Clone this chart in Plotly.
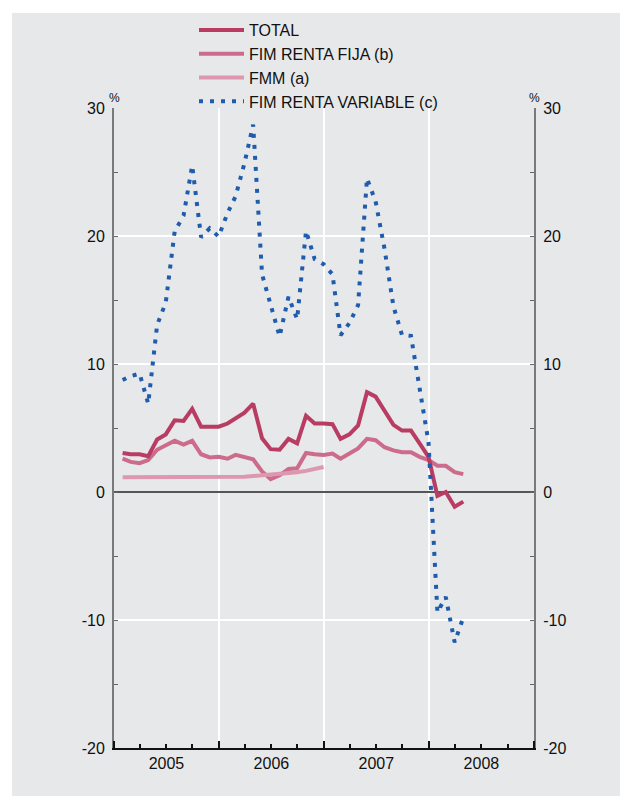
import pandas as pd
import plotly.graph_objects as go

# Monthly data, Jan 2005 - Apr 2008 (end of month)
months = pd.date_range("2005-01-31", periods=40, freq="ME").strftime("%Y-%m-%d").tolist()

total = [3.05, 2.95, 2.95, 2.8, 4.1, 4.5, 5.6, 5.55, 6.5, 5.1, 5.1, 5.1,
         5.35, 5.75, 6.2, 6.9, 4.2, 3.35, 3.3, 4.15, 3.8, 5.95, 5.35, 5.35,
         5.3, 4.15, 4.5, 5.2, 7.8, 7.45, 6.3, 5.25, 4.8, 4.8, 3.8, 2.75,
         -0.3, 0.0, -1.15, -0.75]

renta_fija = [2.6, 2.35, 2.25, 2.5, 3.3, 3.65, 4.0, 3.7, 4.0, 2.95, 2.7, 2.75,
              2.6, 2.9, 2.75, 2.55, 1.6, 1.0, 1.3, 1.8, 1.85, 3.05, 2.95, 2.9,
              3.0, 2.6, 3.0, 3.4, 4.15, 4.05, 3.5, 3.25, 3.1, 3.1, 2.75, 2.5,
              2.05, 2.05, 1.55, 1.4]

fmm = [1.15, 1.15, 1.15, 1.15, 1.18, 1.2, 1.2, 1.2, 1.2, 1.18, 1.15, 1.15,
       1.15, 1.17, 1.2, 1.25, 1.3, 1.35, 1.4, 1.5, 1.55, 1.65, 1.8, 1.95]

renta_variable = [8.75, 9.05, 9.25, 6.9, 13.05, 14.8, 20.35, 21.6, 25.5, 19.9, 20.6, 19.95,
                  21.8, 23.1, 25.7, 28.7, 17.0, 14.5, 12.15, 15.25, 13.5, 20.4, 18.2, 17.8,
                  17.0, 12.25, 13.2, 14.6, 24.5, 22.7, 19.0, 14.5, 12.25, 12.2, 8.2, 3.9,
                  -9.4, -8.2, -11.75, -9.8]

y_ticks = [-20, -10, 0, 10, 20, 30]
y_ticktext = ["-20", "-10", "0", "10", "20", "30"]

BG = "#e7e8ea"
FONT = "Liberation Sans, Arial, sans-serif"

# page body has an 8px margin, so the figure starts at (8, 8)
L, T, PW, PH = 106, 100, 420, 640

fig = go.Figure()

fig.add_trace(go.Scatter(x=months, y=renta_fija, name="FIM RENTA FIJA (b)", mode="lines",
                         line=dict(color="#cc6b8a", width=4), legendrank=2))
fig.add_trace(go.Scatter(x=months[:len(fmm)], y=fmm, name="FMM (a)", mode="lines",
                         line=dict(color="#dd97ae", width=4), legendrank=3))
fig.add_trace(go.Scatter(x=months, y=total, name="TOTAL", mode="lines",
                         line=dict(color="#b93c62", width=4), legendrank=1))
fig.add_trace(go.Scatter(x=months, y=renta_variable, name="FIM RENTA VARIABLE (c)", mode="lines",
                         line=dict(color="#1f5cad", width=4, dash="4px,7px"), legendrank=4))
# dummy trace so the right axis gets drawn
fig.add_trace(go.Scatter(x=months, y=total, yaxis="y2", mode="lines", opacity=0,
                         line=dict(width=0), showlegend=False, hoverinfo="skip"))

yaxis_common = dict(range=[-20, 30], tickmode="array", tickvals=y_ticks, ticktext=y_ticktext,
                    ticks="inside", ticklen=4, ticklabelstandoff=4,
                    tickcolor="#666", showline=True, linecolor="#7a7a7a", linewidth=2,
                    tickfont=dict(size=16, color="#111"),
                    minor=dict(dtick=5, tick0=0, ticks="inside", ticklen=4, tickcolor="#666",
                               showgrid=False),
                    fixedrange=True)

fig.update_layout(
    width=628, height=796,
    margin=dict(l=L, r=628 - L - PW, t=T, b=796 - T - PH, autoexpand=False),
    paper_bgcolor=BG, plot_bgcolor=BG,
    font=dict(family=FONT, size=16, color="#111"),
    showlegend=True,
    legend=dict(x=(194 - 8 - L) / PW, y=(PH + T - 5) / PH, xanchor="left", yanchor="top",
                bgcolor="rgba(0,0,0,0)", font=dict(size=16), tracegroupgap=0, itemwidth=45),
    xaxis=dict(type="date", range=["2005-01-01", "2009-01-01"], dtick="M12", tick0="2005-01-01",
               tickformat="%Y", ticklabelmode="period", ticks="inside", ticklen=7,
               tickcolor="#111", tickwidth=2, showline=True, linecolor="#111", linewidth=2,
               showgrid=True, gridcolor="white", gridwidth=2, tickfont=dict(size=16),
               minor=dict(dtick="M3", tick0="2005-01-01", ticks="inside", ticklen=4,
                          tickcolor="#111", showgrid=False)),
    yaxis=dict(side="left", showgrid=True, gridcolor="white", gridwidth=2,
               zeroline=True, zerolinecolor="#555", zerolinewidth=2, **yaxis_common),
    yaxis2=dict(side="right", overlaying="y", showgrid=False, zeroline=False, **yaxis_common),
    shapes=[
        # white strips at left and top of the page
        dict(type="rect", xref="paper", yref="paper", x0=-L / PW, x1=(4 - L) / PW,
             y0=-1, y1=2, fillcolor="white", line_width=0),
        dict(type="rect", xref="paper", yref="paper", x0=-1, x1=2,
             y0=(PH + T - 5) / PH, y1=(PH + T + 1) / PH, fillcolor="white", line_width=0),
    ],
    annotations=[
        dict(text="%", x=0, y=(PH + T - 90) / PH, xref="paper", yref="paper", showarrow=False,
             font=dict(size=12), xanchor="center", yanchor="middle"),
        dict(text="%", x=1, y=(PH + T - 90) / PH, xref="paper", yref="paper", showarrow=False,
             font=dict(size=12), xanchor="center", yanchor="middle"),
    ],
)

fig.write_html("out.html")
